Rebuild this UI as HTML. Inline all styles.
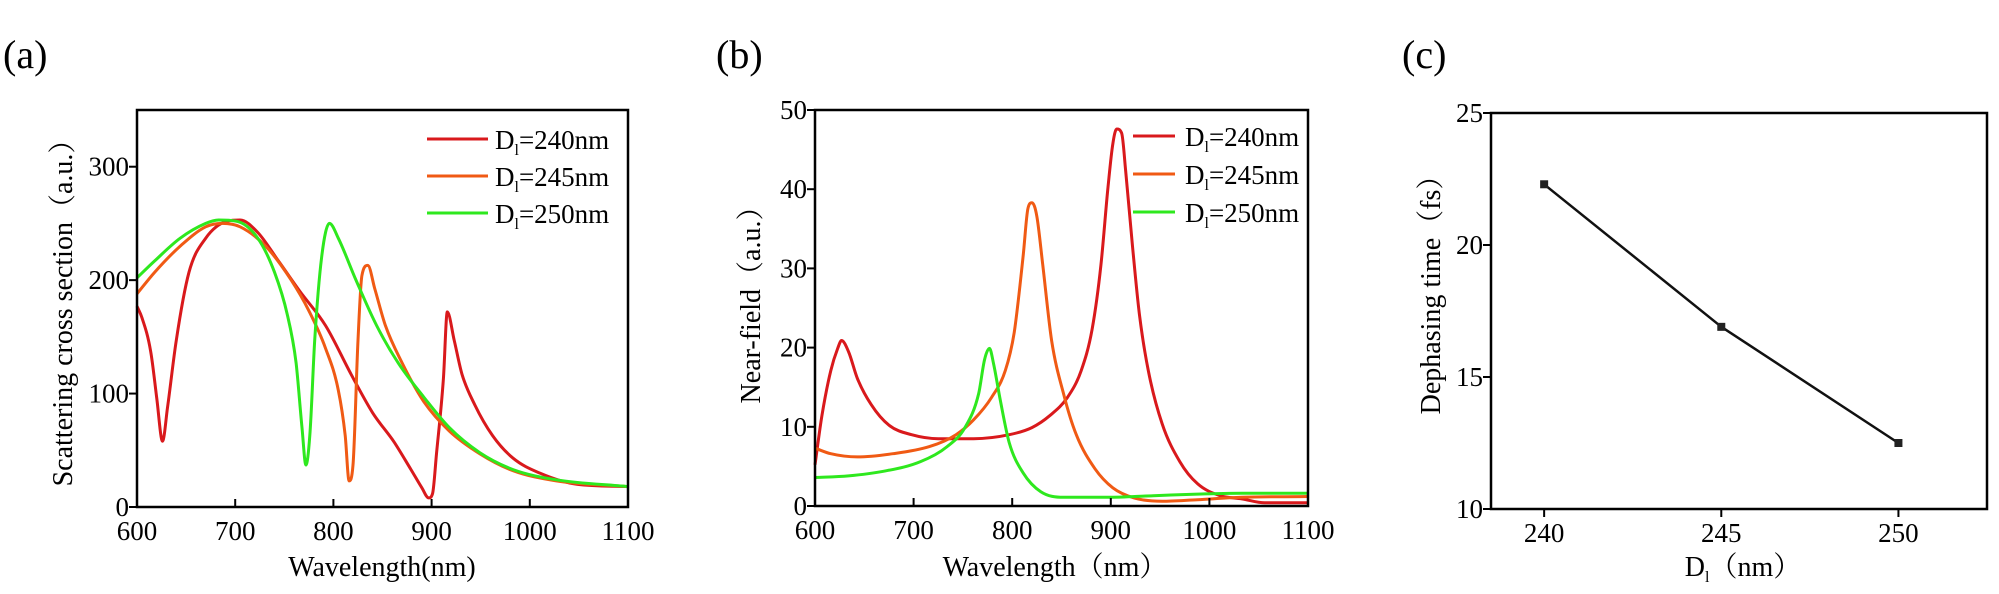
<!DOCTYPE html>
<html><head><meta charset="utf-8"><style>
html,body{margin:0;padding:0;background:#fff;}
svg{display:block;font-family:"Liberation Serif","Noto Serif CJK SC",serif;}
</style></head><body>
<svg id="fig" width="1999" height="594" viewBox="0 0 1999 594" xmlns="http://www.w3.org/2000/svg"></svg>
<script>
// ---- Panel (a) data: scattering cross section ----
const aRedX=[600,605,614,620,626,631,640,653,670,692,705,723,744,766,792,818,840,862,879,890,897,901,905,912,916,923,931,944,962,983,1010,1048,1100];
const aRedY=[177,167,137,97,58,87,147,207,237,252,253,242,217,190,160,117,83,57,33,17,8,12,47,113,172,147,117,90,63,43,30,20,18];
const aOrX=[600,618,644,670,687,705,731,757,775,792,805,812,816,820,825,829,835,842,853,870,892,918,949,983,1027,1100];
const aOrY=[188,207,230,247,250,247,230,200,173,140,103,63,23,37,147,204,213,193,160,127,93,67,47,32,23,18];
const aGrX=[600,618,644,670,683,701,723,740,753,762,768,772,776,781,788,796,805,823,844,866,892,918,949,983,1027,1100];
const aGrY=[202,217,237,250,253,252,237,207,170,127,70,37,63,147,220,250,237,200,160,127,97,70,48,33,24,18];
const aXTicks=[600,700,800,900,1000,1100];
const aYTicks=[0,100,200,300];
// ---- Panel (b) data: near-field ----
const bRedX=[600,607,616,623,627,634,643,657,675,698,725,761,797,820,838,856,870,881,890,897,902,906,911,915,922,929,938,952,970,988,1011,1033,1056,1100];
const bRedY=[5.2,11.4,17.1,19.9,20.9,19.5,16.1,12.8,10.2,9.0,8.5,8.5,9.0,9.9,11.4,13.7,17.1,22.3,30.4,40,45.7,47.6,47.1,42.4,32.8,24.2,17.1,10.4,5.6,2.8,1.3,0.9,0.4,0.4];
const bOrX=[600,616,643,679,716,743,761,779,793,802,811,816,820,825,831,840,852,865,884,902,924,952,988,1033,1100];
const bOrY=[7.3,6.6,6.2,6.6,7.5,9.0,10.9,13.7,17.1,21.9,31.4,37.6,38.3,36.6,30.4,20.9,14.2,9.0,4.7,2.3,1.0,0.6,0.8,1.1,1.2];
const bGrX=[600,634,670,707,734,752,766,772,777,781,788,797,811,829,852,897,943,988,1033,1100];
const bGrY=[3.6,3.8,4.4,5.6,7.5,9.9,14.2,18.5,19.9,18.0,13.3,8.0,4.2,1.8,1.1,1.1,1.3,1.5,1.6,1.6];
const bXTicks=[600,700,800,900,1000,1100];
const bYTicks=[0,10,20,30,40,50];
// ---- Panel (c) data: dephasing time ----
const cX=[240,245,250];
const cY=[22.3,16.9,12.5];
const cXTicks=[240,245,250];
const cYTicks=[10,15,20,25];

const NS="http://www.w3.org/2000/svg";
const svg=document.getElementById('fig');
function mk(tag,attrs,parent){const e=document.createElementNS(NS,tag);for(const k in attrs)e.setAttribute(k,attrs[k]);(parent||svg).appendChild(e);return e;}
function scale(d0,d1,p0,p1){return v=>p0+(v-d0)/(d1-d0)*(p1-p0);}
// monotone cubic path through pixel points
function monoPath(px,py){
  const n=px.length;if(n<3)return 'M'+px.map((x,i)=>x+','+py[i]).join(' L');
  const d=[],m=new Array(n);
  for(let i=0;i<n-1;i++)d.push((py[i+1]-py[i])/(px[i+1]-px[i]));
  m[0]=d[0];m[n-1]=d[n-2];
  for(let i=1;i<n-1;i++){m[i]=(d[i-1]*d[i]<=0)?0:(d[i-1]+d[i])/2;}
  for(let i=0;i<n-1;i++){if(d[i]===0){m[i]=0;m[i+1]=0;continue;}
    const a=m[i]/d[i],b=m[i+1]/d[i],s=a*a+b*b;if(s>9){const t=3/Math.sqrt(s);m[i]=t*a*d[i];m[i+1]=t*b*d[i];}}
  let p='M'+px[0].toFixed(1)+','+py[0].toFixed(1);
  for(let i=0;i<n-1;i++){const h=(px[i+1]-px[i])/3;
    p+=' C'+(px[i]+h).toFixed(1)+','+(py[i]+m[i]*h).toFixed(1)+' '+(px[i+1]-h).toFixed(1)+','+(py[i+1]-m[i+1]*h).toFixed(1)+' '+px[i+1].toFixed(1)+','+py[i+1].toFixed(1);}
  return p;
}

function panel(cfg){
  const g=mk('g',{});
  
  
  const sx=scale(cfg.xd[0],cfg.xd[1],cfg.L,cfg.R), sy=scale(cfg.yd[0],cfg.yd[1],cfg.B,cfg.T);
  cfg.series.forEach(s=>{
    const px=s.x.map(sx),py=s.y.map(sy);
    const dstr=s.markers?('M'+px.map((x,i)=>x.toFixed(1)+','+py[i].toFixed(1)).join(' L')):monoPath(px,py);
    const pl=mk('path',{d:dstr,fill:'none',stroke:s.color,'stroke-width':s.w||3,'stroke-linejoin':'round'},g);
    
    
    if(s.markers){s.x.forEach((v,i)=>{const m=mk('rect',{x:sx(v)-4,y:sy(s.y[i])-4,width:8,height:8,fill:'#222'},g);
      
      });}
  });
  const fr=mk('rect',{x:cfg.L,y:cfg.T,width:cfg.R-cfg.L,height:cfg.B-cfg.T,fill:'none',stroke:'#000','stroke-width':2.5},g);
  
  
  cfg.xt.forEach(v=>{const x=sx(v);
    mk('line',{x1:x,x2:x,y1:cfg.B,y2:cfg.B+(cfg.xtOut?8:-8),stroke:'#000','stroke-width':2},g);
    const t=mk('text',{x:x,y:cfg.B+33,'text-anchor':'middle','font-size':27},g);t.textContent=v;
    
    });
  cfg.yt.forEach(v=>{const y=sy(v);
    mk('line',{x1:cfg.L,x2:cfg.L-8,y1:y,y2:y,stroke:'#000','stroke-width':2},g);
    const t=mk('text',{x:cfg.L-8,y:y+9,'text-anchor':'end','font-size':27},g);t.textContent=v;
    
    });
  const pl=mk('text',{x:cfg.lab[0],y:cfg.lab[1],'font-size':40},g);pl.textContent=cfg.label;
  
  
  const xt=mk('text',{x:cfg.xtitle[0],y:cfg.xtitle[1],'text-anchor':'middle','font-size':28},g);xt.innerHTML=cfg.xtitle[2];
  
  
  const yt=mk('text',{x:0,y:0,'text-anchor':'middle','font-size':28,transform:'translate('+cfg.ytitle[0]+','+cfg.ytitle[1]+') rotate(-90)'},g);yt.textContent=cfg.ytitle[2];
  
  
  if(cfg.legend){cfg.series.forEach((s,i)=>{const y=cfg.legend.y[i];
    const lg=mk('g',{},g);
    
    
    mk('line',{x1:cfg.legend.x1,x2:cfg.legend.x2,y1:y,y2:y,stroke:s.color,'stroke-width':3},lg);
    const t=mk('text',{x:cfg.legend.tx,y:y+10,'font-size':27},lg);
    t.innerHTML='D<tspan font-size="16" dy="6">l</tspan><tspan dy="-6">='+s.label+'nm</tspan>';});}
}
const RED='#d9191c',OR='#f05a14',GR='#2ee81e';
panel({name:'panel-a-scattering',L:137,R:628,T:110,B:507,xd:[600,1100],yd:[0,350],xt:aXTicks,yt:aYTicks,
  label:'(a)',lab:[3,68],xtitle:[382,576,'Wavelength(nm)'],ytitle:[72,306,'Scattering cross section（a.u.）'],
  legend:{x1:427,x2:488,tx:495,y:[139,176,213]},
  series:[{name:'series-d240',label:'240',x:aRedX,y:aRedY,color:RED},{name:'series-d245',label:'245',x:aOrX,y:aOrY,color:OR},{name:'series-d250',label:'250',x:aGrX,y:aGrY,color:GR}]});
panel({name:'panel-b-near-field',L:815,R:1308,T:110,B:506,xd:[600,1100],yd:[0,50],xt:bXTicks,yt:bYTicks,
  label:'(b)',lab:[716,68],xtitle:[1055,576,'Wavelength（nm）'],ytitle:[760,298,'Near-field（a.u.）'],
  legend:{x1:1133,x2:1175,tx:1185,y:[136,174,212]},
  series:[{name:'series-d240',label:'240',x:bRedX,y:bRedY,color:RED},{name:'series-d245',label:'245',x:bOrX,y:bOrY,color:OR},{name:'series-d250',label:'250',x:bGrX,y:bGrY,color:GR}]});
panel({name:'panel-c-dephasing',L:1491,R:1987,T:113,B:509,xd:[238.5,252.5],yd:[10,25],xt:cXTicks,yt:cYTicks,xtOut:true,
  label:'(c)',lab:[1402,68],xtitle:[1743,576,'D<tspan font-size="16" dy="6">l</tspan><tspan dy="-6">（nm）</tspan>'],ytitle:[1440,288,'Dephasing time（fs）'],
  series:[{name:'series-dephasing',x:cX,y:cY,color:'#111',w:2.5,markers:true}]});
</script>
</body></html>
